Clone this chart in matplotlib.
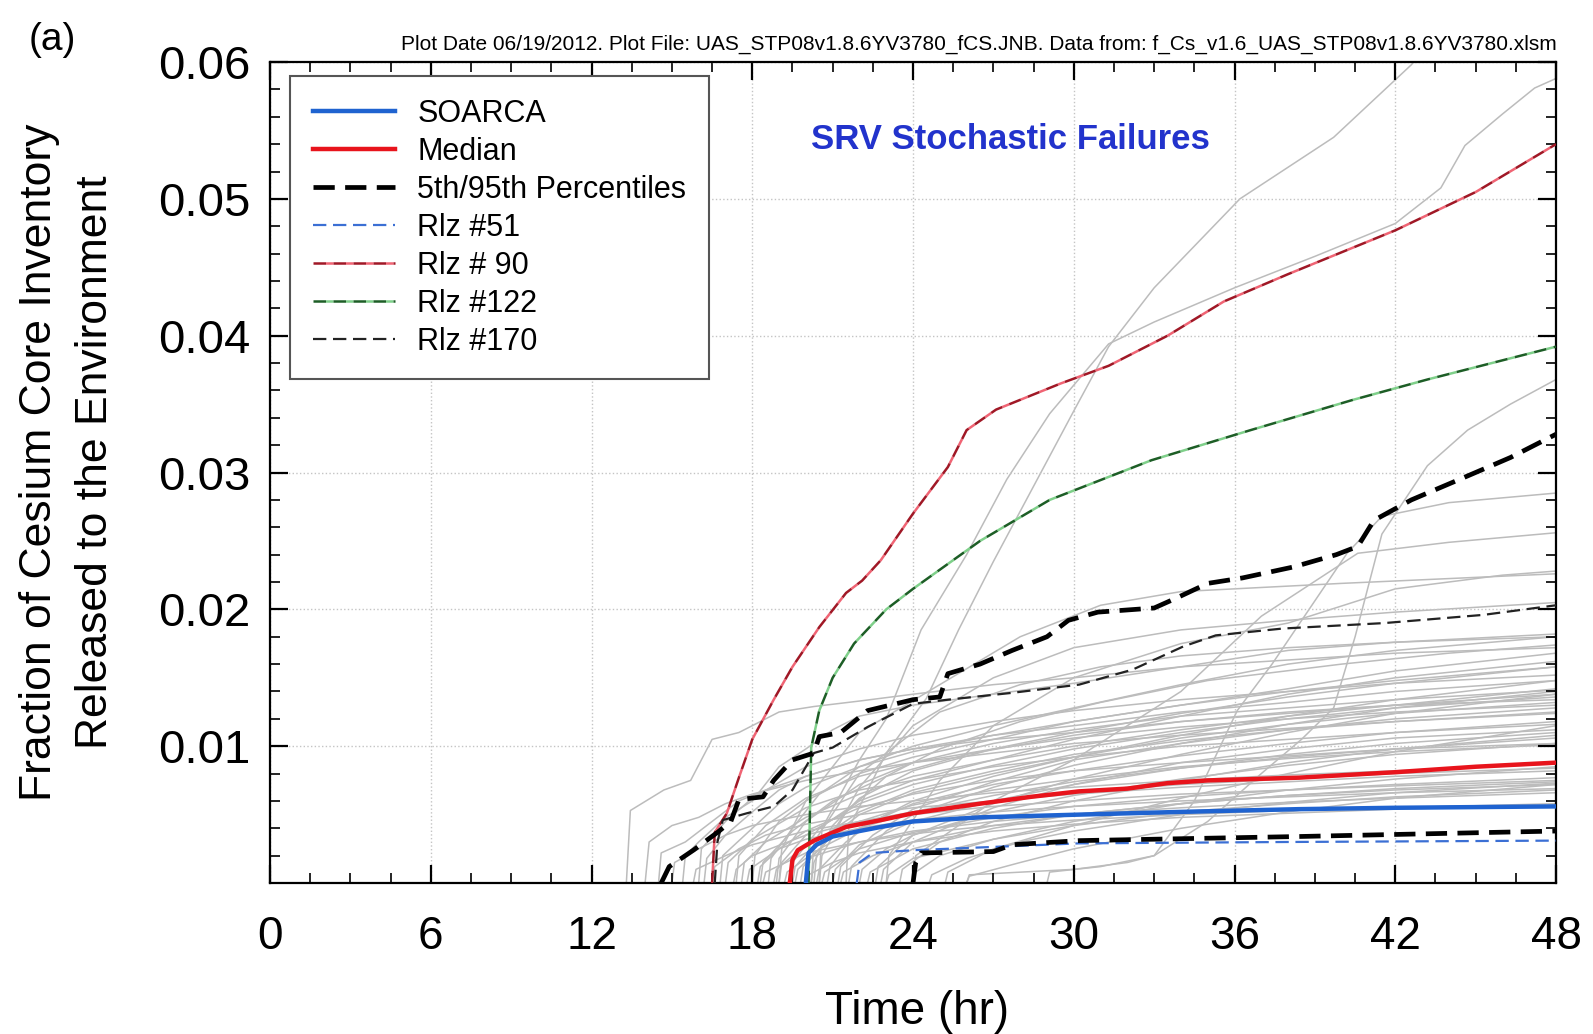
import matplotlib
matplotlib.use("Agg")
import matplotlib.pyplot as plt
from matplotlib.ticker import MultipleLocator, FormatStrFormatter

plt.rcParams['font.family'] = ['Liberation Sans', 'DejaVu Sans']

# ---- data (hours, fraction released) ----
soarca_h = [20.0, 20.1, 20.4, 21.0, 22.0, 22.8, 24.0, 26.5, 30.2, 34.0, 38.4, 42.0, 48.0]
soarca_v = [0, 0.0022, 0.0028, 0.0034, 0.0038, 0.0041, 0.0045, 0.0048, 0.0050, 0.0052, 0.0054, 0.0055, 0.0056]

median_h = [19.4, 19.5, 19.7, 20.3, 21.5, 22.8, 24.0, 26.5, 28.4, 30.2, 32.0, 33.5, 35.0, 38.4, 42.0, 45.0, 48.0]
median_v = [0, 0.0017, 0.0024, 0.0031, 0.0041, 0.0046, 0.0051, 0.0058, 0.0063, 0.0067, 0.0069,
            0.0073, 0.0075, 0.0077, 0.0081, 0.0085, 0.0088]

p95_h = [14.6, 14.9, 15.8, 16.7, 17.2, 17.5, 18.4, 18.8, 19.5, 20.3, 20.5, 21.3, 22.3, 24.0, 25.0,
         25.3, 26.5, 27.7, 29.0, 29.8, 30.9, 33.0, 33.8, 35.0, 36.3, 38.2, 39.8, 40.6, 41.2, 42.6,
         44.4, 46.3, 48.0]
p95_v = [0, 0.0012, 0.0024, 0.0037, 0.0045, 0.0061, 0.0063, 0.0075, 0.0090, 0.0095, 0.0107, 0.0110,
         0.0126, 0.0134, 0.0136, 0.0153, 0.0160, 0.0170, 0.0180, 0.0192, 0.0198, 0.0201, 0.0208,
         0.0219, 0.0223, 0.0231, 0.0240, 0.0246, 0.0265, 0.0280, 0.0295, 0.0311, 0.0328]

p05_h = [24.0, 24.1, 24.3, 27.0, 27.7, 30.2, 38.4, 48.0]
p05_v = [0, 0.0015, 0.0022, 0.0023, 0.0028, 0.0031, 0.0034, 0.0038]

rlz51_h = [21.9, 22.0, 22.5, 24.0, 26.5, 30.2, 38.0, 48.0]
rlz51_v = [0, 0.0015, 0.0022, 0.0024, 0.0026, 0.0029, 0.0030, 0.0031]

rlz90_h = [16.5, 16.6, 17.05, 17.5, 18.0, 18.8, 19.5, 20.5, 21.5, 22.1, 22.8, 24.0, 25.3, 26.0,
           27.1, 29.5, 31.3, 33.5, 35.6, 38.0, 42.0, 45.0, 48.0]
rlz90_v = [0, 0.0037, 0.0051, 0.0077, 0.0105, 0.0134, 0.0158, 0.0187, 0.0212, 0.0221, 0.0236,
           0.0270, 0.0304, 0.0331, 0.0346, 0.0365, 0.0378, 0.0400, 0.0425, 0.0445, 0.0477, 0.0505, 0.0540]

rlz122_h = [20.1, 20.2, 20.5, 21.0, 21.8, 23.0, 24.0, 25.5, 26.5, 29.1, 32.9, 36.6, 40.4, 43.2, 48.0]
rlz122_v = [0, 0.0099, 0.0126, 0.0150, 0.0175, 0.0200, 0.0215, 0.0236, 0.0250, 0.0280, 0.0309,
            0.0331, 0.0353, 0.0368, 0.0392]

rlz170_h = [16.6, 16.7, 16.9, 17.8, 18.8, 19.5, 20.3, 21.0, 22.3, 24.0, 25.3, 27.7, 30.2, 32.2,
            34.1, 35.3, 37.8, 41.6, 45.3, 48.0]
rlz170_v = [0, 0.0030, 0.0046, 0.0051, 0.0056, 0.0068, 0.0095, 0.0099, 0.0114, 0.0131, 0.0134,
            0.0139, 0.0145, 0.0156, 0.0173, 0.0181, 0.0186, 0.0190, 0.0196, 0.0203]

# other realizations (grey), each a list of (hour, fraction)
gray_runs = [
    [(13.3, 0), (13.45, .0053), (14.7, .0068), (15.7, .0075), (16.5, .0105), (17.5, .011), (19, .0125),
     (20.3, .0129), (22, .0133), (24, .0138), (27, .0145), (30, .015), (34, .0158), (38, .0163), (42, .0168), (48, .0172)],
    [(14.0, 0), (14.15, .003), (15, .0042), (16, .0048), (17, .0058), (18, .0065), (20, .0075), (22, .0082),
     (24, .0088), (27, .0095), (30, .0102), (34, .0108), (38, .0113), (42, .0118), (48, .0125)],
    [(14.5, 0), (14.6, .0022), (15.5, .003), (16.5, .0045), (17.5, .006), (18.5, .0068), (20, .0078), (22, .009),
     (24, .0098), (27, .0108), (30, .0115), (34, .0125), (38, .0132), (42, .014), (48, .0148)],
    [(15.0, 0), (15.1, .0015), (16, .0025), (17, .0035), (18, .0042), (20, .005), (22, .0056), (24, .006),
     (27, .0066), (30, .007), (34, .0075), (38, .0079), (42, .0082), (48, .0087)],
    [(15.4, 0), (15.5, .002), (16, .003), (17, .0048), (18, .006), (19, .0085), (20, .0098), (21, .0112),
     (22, .0122), (24, .013), (27, .0138), (30, .0146), (34, .0158), (38, .017), (42, .0176), (48, .0182)],
    [(15.8, 0), (15.9, .001), (17, .002), (18, .0028), (20, .0038), (22, .0045), (24, .005), (27, .0056),
     (30, .006), (34, .0065), (38, .0068), (42, .0071), (48, .0075)],
    [(16.2, 0), (16.3, .0018), (17, .0035), (18, .0052), (19, .0068), (20, .0078), (22, .009), (24, .0098),
     (27, .0105), (30, .011), (34, .0118), (38, .0124), (42, .013), (48, .0138)],
    [(16.5, 0), (16.6, .0012), (17.5, .0025), (18.5, .0035), (20, .0043), (22, .005), (24, .0055), (27, .006),
     (30, .0065), (34, .007), (38, .0074), (42, .0078), (48, .0082)],
    [(16.8, 0), (16.9, .002), (18, .004), (19, .0058), (20, .007), (22, .0085), (24, .0096), (27, .0108),
     (30, .0118), (34, .013), (38, .014), (42, .0148), (48, .0158)],
    [(17.0, 0), (17.1, .0015), (18, .0032), (20, .0055), (22, .0068), (24, .0075), (27, .0085), (30, .0092),
     (34, .01), (38, .0105), (42, .011), (48, .0116)],
    [(17.3, 0), (17.4, .001), (18, .002), (20, .0035), (22, .0045), (24, .0052), (27, .006), (30, .0066),
     (34, .0072), (38, .0076), (42, .008), (48, .0084)],
    [(17.6, 0), (17.7, .0015), (18.5, .003), (20, .0048), (22, .0065), (24, .0078), (27, .009), (30, .01),
     (34, .0112), (38, .0122), (42, .013), (48, .0142)],
    [(17.8, 0), (17.9, .001), (19, .0025), (20, .0032), (22, .004), (24, .0046), (27, .0052), (30, .0056),
     (34, .006), (38, .0063), (42, .0066), (48, .0069)],
    [(18.0, 0), (18.1, .002), (19, .0045), (20, .006), (22, .008), (24, .0092), (27, .0105), (30, .0118),
     (34, .013), (38, .0142), (42, .0155), (48, .0168)],
    [(18.2, 0), (18.3, .0012), (19, .0025), (20, .0038), (22, .0055), (24, .0065), (27, .0075), (30, .0082),
     (34, .0088), (38, .0093), (42, .0098), (48, .0102)],
    [(18.4, 0), (18.5, .0008), (20, .0022), (22, .003), (24, .0036), (27, .0042), (30, .0046), (34, .005),
     (38, .0053), (42, .0055), (48, .0058)],
    [(18.6, 0), (18.7, .0018), (19.5, .004), (20.5, .0065), (22, .0085), (24, .01), (27, .0115), (30, .0128),
     (34, .0145), (38, .016), (42, .017), (48, .018)],
    [(18.8, 0), (18.9, .001), (20, .0028), (22, .0045), (24, .0057), (27, .0068), (30, .0076), (34, .0085),
     (38, .0091), (42, .0096), (48, .0101)],
    [(19.0, 0), (19.1, .0015), (20, .0035), (22, .0058), (24, .0072), (27, .0086), (30, .0098), (34, .011),
     (38, .012), (42, .0128), (48, .0136)],
    [(19.2, 0), (19.3, .0008), (20, .0018), (22, .003), (24, .0038), (27, .0045), (30, .005), (34, .0055),
     (38, .0059), (42, .0062), (48, .0066)],
    [(19.4, 0), (19.5, .0015), (20.5, .004), (22, .006), (24, .0075), (27, .009), (30, .0105), (34, .0122),
     (38, .0138), (42, .015), (48, .0162)],
    [(19.6, 0), (19.7, .001), (20.5, .0025), (22, .004), (24, .0052), (27, .0064), (30, .0074), (34, .0084),
     (38, .0092), (42, .0098), (48, .0106)],
    [(19.8, 0), (19.9, .0012), (21, .0035), (22, .005), (24, .0066), (27, .008), (30, .0092), (34, .0106),
     (38, .0116), (42, .0124), (48, .0132)],
    [(20.0, 0), (20.1, .0006), (21, .0015), (22, .0022), (24, .003), (27, .0038), (30, .0043), (34, .0048),
     (38, .0051), (42, .0054), (48, .0057)],
    [(20.2, 0), (20.3, .0015), (21, .0042), (22, .0062), (24, .0082), (27, .0098), (30, .011), (34, .0124),
     (38, .0136), (42, .0146), (48, .0158)],
    [(20.4, 0), (20.5, .001), (21.5, .003), (22.5, .0045), (24, .0058), (27, .0072), (30, .0082), (34, .0093),
     (38, .0102), (42, .011), (48, .0118)],
    [(20.6, 0), (20.7, .0008), (22, .0025), (24, .0037), (27, .0048), (30, .0056), (34, .0063), (38, .0068),
     (42, .0072), (48, .0077)],
    [(20.8, 0), (20.9, .0012), (22, .004), (24, .006), (27, .0078), (30, .0092), (34, .0108), (38, .0122),
     (42, .0134), (48, .0148)],
    [(21.0, 0), (21.1, .001), (22, .0028), (24, .0045), (27, .006), (30, .0072), (34, .0084), (38, .0094),
     (42, .0102), (48, .011)],
    [(21.3, 0), (21.4, .0008), (22.5, .002), (24, .003), (27, .0042), (30, .005), (34, .0058), (38, .0064),
     (42, .0069), (48, .0074)],
    [(21.6, 0), (21.7, .0012), (23, .0038), (24, .005), (27, .007), (30, .0086), (34, .0102), (38, .0116),
     (42, .0128), (48, .014)],
    [(22.0, 0), (22.1, .001), (23, .0025), (24, .0035), (27, .0052), (30, .0064), (34, .0076), (38, .0086),
     (42, .0094), (48, .0102)],
    [(22.3, 0), (22.4, .0008), (24, .0025), (27, .004), (30, .005), (34, .0058), (38, .0064), (42, .0068), (48, .0072)],
    [(22.6, 0), (22.7, .0012), (24, .0035), (27, .0058), (30, .0076), (34, .0094), (38, .011), (42, .0124), (48, .0138)],
    [(23.0, 0), (23.1, .0006), (24, .0018), (27, .0032), (30, .0042), (34, .0052), (38, .0058), (42, .0063), (48, .0068)],
    [(23.5, 0), (23.6, .001), (25, .003), (27, .0045), (30, .006), (34, .0075), (38, .0088), (42, .0098), (48, .0108)],
    [(24.0, 0), (24.1, .0008), (25, .002), (27, .0032), (30, .0045), (34, .0058), (38, .0068), (42, .0076), (48, .0085)],
    [(24.6, 0), (24.7, .0006), (26, .0018), (28, .003), (30, .0038), (34, .005), (38, .0059), (42, .0066), (48, .0073)],
    [(25.2, 0), (25.3, .0008), (27, .0025), (30, .0042), (34, .0062), (38, .008), (42, .0096), (48, .0115)],
    [(26.0, 0), (26.1, .0005), (28, .0015), (30, .0025), (34, .004), (38, .0052), (42, .0062), (48, .0072)],
    [(16.0, 0), (16.1, .0025), (17, .0045), (18, .0062), (20, .0085), (22, .0098), (24, .0108), (27, .0118),
     (30, .0126), (34, .0134), (38, .014), (42, .0146), (48, .0152)],
    [(17.4, 0), (17.5, .002), (18.5, .0042), (20, .0062), (22, .0078), (24, .0088), (27, .0098), (30, .0106),
     (34, .0114), (38, .012), (42, .0125), (48, .013)],
    [(18.9, 0), (19.0, .0018), (20, .0045), (22, .0072), (24, .0088), (27, .0102), (30, .0112), (34, .0122),
     (38, .0128), (42, .0134), (48, .0141)],
    [(19.5, 0), (19.6, .0012), (20.5, .0032), (22, .0052), (24, .0068), (27, .0082), (30, .0094), (34, .0104),
     (38, .0112), (42, .0118), (48, .0124)],
    [(20.3, 0), (20.4, .002), (21.5, .0052), (23, .0078), (25, .0098), (28, .0118), (31, .0132), (35, .0148),
     (40, .016), (44, .0168), (48, .0174)],
    [(21.2, 0), (21.3, .0012), (22.5, .0035), (24, .0054), (27, .0074), (30, .009), (34, .0102), (38, .0112),
     (42, .012), (48, .0128)],
    [(22.8, 0), (22.9, .001), (24, .003), (27, .0055), (30, .0072), (34, .0088), (38, .0098), (42, .0106), (48, .0112)],
    [(18.3, 0), (18.4, .0015), (19.5, .0038), (21, .006), (23, .0078), (26, .0094), (30, .0108), (34, .0118),
     (38, .0125), (42, .013), (48, .0134)],
    # upper stragglers
    [(20.5, 0), (20.6, .004), (22, .009), (23, .012), (24.3, .0185), (26, .024), (27.5, .0295), (29.1, .0343),
     (31.3, .0394), (33, .041), (36, .0435), (39, .0458), (42, .0482), (43.7, .0508), (44.6, .0539),
     (46, .0562), (47.2, .0581), (48, .0588)],
    [(21.5, 0), (21.6, .004), (23, .0095), (24.5, .0135), (25.7, .0185), (27, .0235), (28.5, .029), (30, .0345),
     (31.3, .0392), (33, .0435), (36.2, .05), (39.7, .0545), (42.6, .0598), (43.2, .0612)],
    [(29.0, 0), (29.1, .0008), (31, .0012), (33, .002), (35, .0045), (37, .008), (38.5, .0105), (39.7, .0128),
     (40.5, .018), (41.5, .0255), (43.2, .0305), (44.7, .0331), (46.3, .035), (48, .0368)],
    [(26.0, 0), (26.1, .0006), (30, .001), (32, .0015), (33, .002), (34.5, .006), (36.1, .0126), (37.4, .016),
     (40.2, .0241), (41.5, .0268), (44, .0278), (48, .0285)],
    [(19.0, 0), (19.1, .0025), (20, .006), (22, .011), (25, .0145), (28, .018), (31, .0203), (34, .0213),
     (40, .0219), (48, .0226)],
    [(20.5, 0), (20.6, .002), (22, .007), (24, .0115), (27, .015), (30, .0172), (34, .0185), (38, .0192),
     (42, .0198), (48, .0205)],
    [(23.0, 0), (23.1, .002), (25, .0075), (27, .0115), (30, .015), (34, .0175), (38, .019), (42, .0215),
     (46, .0225), (48, .0228)],
    [(24.0, 0), (24.1, .002), (27, .006), (30, .009), (34, .014), (37, .0195), (40.6, .0241), (44, .0249), (48, .0256)],
    [(20.2, 0), (20.3, .003), (22, .008), (25, .0125), (28, .0145), (31, .0158), (34, .0166), (38, .0172),
     (42, .0176), (48, .018)],
]

xticks = [0, 6, 12, 18, 24, 30, 36, 42, 48]
yticks = [0.01, 0.02, 0.03, 0.04, 0.05, 0.06]

fig = plt.figure(figsize=(15.93, 10.34), dpi=100)
ax = fig.add_axes([0.1695, 0.146, 0.8073, 0.794])

for run in gray_runs:
    hh = [p[0] for p in run]
    vv = [p[1] for p in run]
    ax.plot(hh, vv, color='#bcbcbc', lw=1.1, zorder=1)

ax.plot(rlz51_h, rlz51_v, color='#3b6fd4', lw=1.6, ls=(0, (6, 3)), label='Rlz #51', zorder=3)
ax.plot(rlz90_h, rlz90_v, color='#a01826', gapcolor='#f06474', lw=1.8, ls=(0, (5, 3)),
        label='Rlz # 90', zorder=3)
ax.plot(rlz122_h, rlz122_v, color='#1d5e26', gapcolor='#7fd08a', lw=1.8, ls=(0, (5, 3)),
        label='Rlz #122', zorder=3)
ax.plot(rlz170_h, rlz170_v, color='#222222', lw=1.6, ls=(0, (6, 3)), label='Rlz #170', zorder=3)

ax.plot(median_h, median_v, color='#e8141c', lw=3.2, label='Median', zorder=5)
ax.plot(soarca_h, soarca_v, color='#1f63d0', lw=3.2, label='SOARCA', zorder=6)
ax.plot(p95_h, p95_v, color='black', lw=3.4, ls=(0, (4.5, 2.2)), label='5th/95th Percentiles', zorder=4)
ax.plot(p05_h, p05_v, color='black', lw=3.4, ls=(0, (4.5, 2.2)), zorder=4)

ax.set_xlim(0, 48)
ax.set_ylim(0, 0.06)
ax.set_xticks(xticks)
ax.set_yticks(yticks)
ax.xaxis.set_minor_locator(MultipleLocator(1.5))
ax.yaxis.set_minor_locator(MultipleLocator(0.002))
ax.yaxis.set_major_formatter(FormatStrFormatter('%.2f'))
ax.tick_params(which='both', direction='in', top=True, right=True)
ax.tick_params(which='major', length=13, width=1.6)
ax.tick_params(which='minor', length=7, width=1.2)
ax.tick_params(axis='x', which='major', labelsize=33, pad=23)
ax.tick_params(axis='y', which='major', labelsize=34, pad=14)
ax.grid(True, which='major', ls=':', color='#c4c4c4', lw=1.0)
for s in ax.spines.values():
    s.set_linewidth(1.6)

ax.set_xlabel('Time (hr)', fontsize=33)
ax.xaxis.set_label_coords(0.503, -0.13)
ax.set_ylabel('Fraction of Cesium Core Inventory\nReleased to the Environment', fontsize=32, linespacing=1.45)
ax.yaxis.set_label_coords(-0.12, 0.513)

order = ['SOARCA', 'Median', '5th/95th Percentiles', 'Rlz #51', 'Rlz # 90', 'Rlz #122', 'Rlz #170']
handles, labels = ax.get_legend_handles_labels()
hmap = dict(zip(labels, handles))
leg = ax.legend([hmap[k] for k in order], order, loc='upper left', bbox_to_anchor=(0.0156, 0.983),
                borderaxespad=0, fontsize=22, handlelength=2.7, handletextpad=0.72, labelspacing=0.26,
                fancybox=False, framealpha=1, edgecolor='#555555', borderpad=0.75)
leg.get_frame().set_linewidth(1.5)

ax.text(0.576, 0.906, 'SRV Stochastic Failures', transform=ax.transAxes, ha='center', va='center',
        fontsize=25, fontweight='bold', color='#2233cc')

fig.text(0.033, 0.961, '(a)', fontsize=28, ha='center', va='center')
fig.text(0.977, 0.957, 'Plot Date 06/19/2012. Plot File: UAS_STP08v1.8.6YV3780_fCS.JNB. '
         'Data from: f_Cs_v1.6_UAS_STP08v1.8.6YV3780.xlsm', fontsize=15, ha='right', va='center')

fig.savefig('out.png', dpi=100)
